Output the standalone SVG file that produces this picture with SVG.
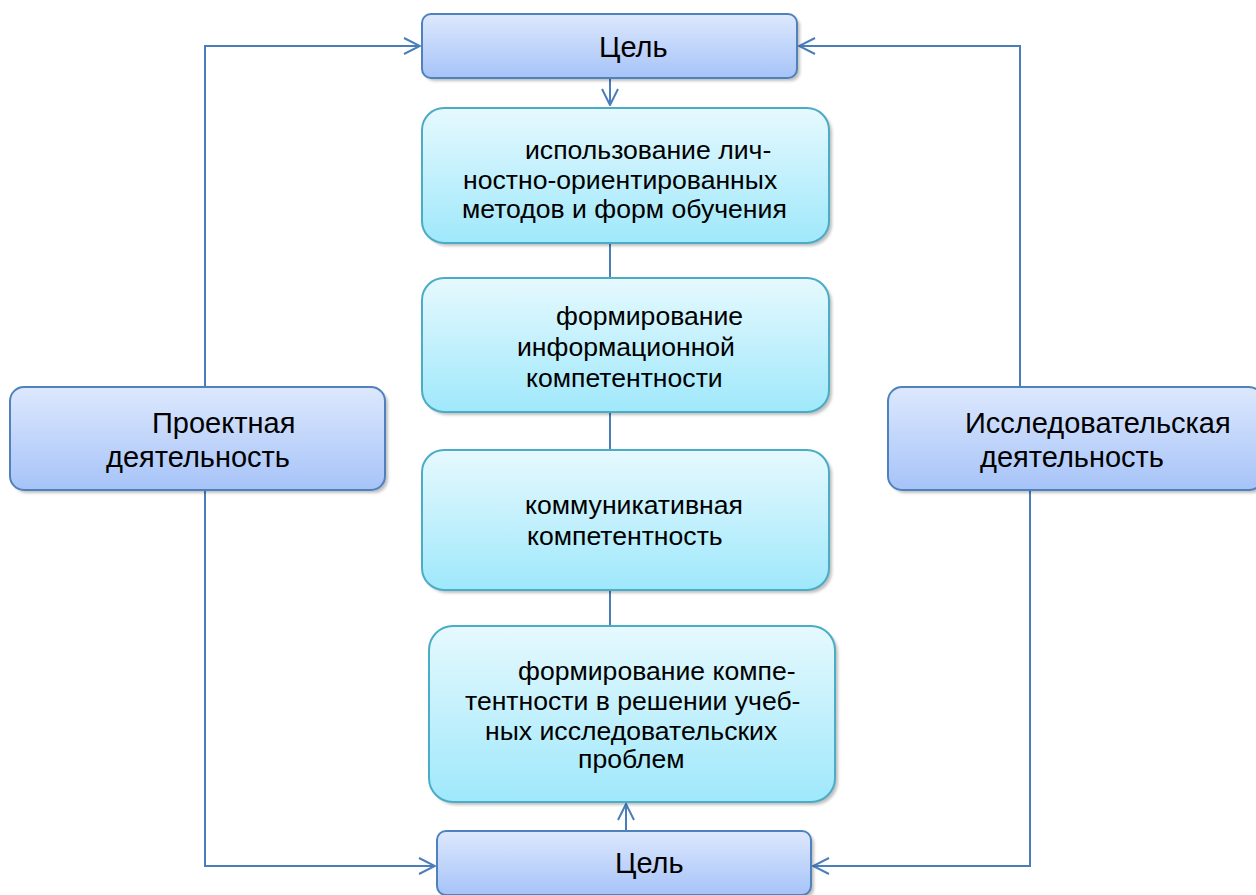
<svg xmlns="http://www.w3.org/2000/svg" width="1256" height="895" viewBox="0 0 1256 895">
<style>
.t{font-family:"Liberation Sans",Arial,sans-serif;font-size:26.6px;fill:#000}
.L{font-size:29px}
.blue{fill:url(#gb);stroke:#4f81bd;stroke-width:2}
.cyan{fill:url(#gc);stroke:#4bacc6;stroke-width:2}
.sh{fill:#000;opacity:0.25;filter:url(#blur)}
.c{fill:none;stroke:#4a7ebb;stroke-width:2}
</style>
<defs>
<linearGradient id="gb" x1="0" y1="0" x2="0" y2="1"><stop offset="0" stop-color="#dde8fd"/><stop offset="1" stop-color="#a6c3f8"/></linearGradient>
<linearGradient id="gc" x1="0" y1="0" x2="0" y2="1"><stop offset="0" stop-color="#e6f9fe"/><stop offset="1" stop-color="#9fe8fb"/></linearGradient>
<filter id="blur" x="-5%" y="-5%" width="110%" height="110%"><feGaussianBlur stdDeviation="1.5"/></filter>
<marker id="a" viewBox="0 0 20 20" refX="19" refY="10" markerWidth="20" markerHeight="20" markerUnits="userSpaceOnUse" orient="auto"><path d="M3 2 L19 10 L3 18" fill="none" stroke="#4a7ebb" stroke-width="2"/></marker>
</defs>
<g id="connectors">
<path class="c" d="M205 387 V46 H420" marker-end="url(#a)"/>
<path class="c" d="M1020 387 V46 H799" marker-end="url(#a)"/>
<path class="c" d="M205 490 V866 H435" marker-end="url(#a)"/>
<path class="c" d="M1030 490 V866 H813" marker-end="url(#a)"/>
<path class="c" d="M610 78 V105" marker-end="url(#a)"/>
<path class="c" d="M610 243 V278"/>
<path class="c" d="M610 412 V450"/>
<path class="c" d="M610 590 V626"/>
<path class="c" d="M626 831 V804" marker-end="url(#a)"/>
</g>
<g id="goal-top">
<rect class="sh" x="425" y="17" width="375" height="64" rx="9"/>
<rect class="blue" x="422" y="14" width="375" height="64" rx="9"/>
<text class="t L" x="599" y="57">Цель</text>
</g>
<g id="box1">
<rect class="sh" x="425" y="111" width="407" height="135" rx="22"/>
<rect class="cyan" x="422" y="108" width="407" height="135" rx="22"/>
<text class="t" x="525" y="159">использование лич-</text>
<text class="t" x="463" y="189">ностно-ориентированных</text>
<text class="t" x="462" y="218">методов и форм обучения</text>
</g>
<g id="box2">
<rect class="sh" x="425" y="281" width="407" height="134" rx="22"/>
<rect class="cyan" x="422" y="278" width="407" height="134" rx="22"/>
<text class="t" x="556" y="325">формирование</text>
<text class="t" x="517" y="356">информационной</text>
<text class="t" x="526" y="387">компетентности</text>
</g>
<g id="box3">
<rect class="sh" x="425" y="453" width="407" height="140" rx="22"/>
<rect class="cyan" x="422" y="450" width="407" height="140" rx="22"/>
<text class="t" x="525" y="514">коммуникативная</text>
<text class="t" x="527" y="545">компетентность</text>
</g>
<g id="box4">
<rect class="sh" x="432" y="629" width="406" height="176" rx="24"/>
<rect class="cyan" x="429" y="626" width="406" height="176" rx="24"/>
<text class="t" x="518" y="680">формирование компе-</text>
<text class="t" x="465" y="710">тентности в решении учеб-</text>
<text class="t" x="485" y="740">ных исследовательских</text>
<text class="t" x="578" y="768">проблем</text>
</g>
<g id="goal-bottom">
<rect class="sh" x="440" y="834" width="374" height="64" rx="9"/>
<rect class="blue" x="437" y="831" width="374" height="64" rx="9"/>
<text class="t L" x="615" y="873">Цель</text>
</g>
<g id="project">
<rect class="sh" x="13" y="390" width="375" height="103" rx="14"/>
<rect class="blue" x="10" y="387" width="375" height="103" rx="14"/>
<text class="t L" x="152" y="433">Проектная</text>
<text class="t L" x="106" y="467">деятельность</text>
</g>
<g id="research">
<rect class="sh" x="891" y="390" width="375" height="103" rx="14"/>
<rect class="blue" x="888" y="387" width="375" height="103" rx="14"/>
<text class="t L" x="965" y="433">Исследовательская</text>
<text class="t L" x="980" y="467">деятельность</text>
</g>
</svg>
